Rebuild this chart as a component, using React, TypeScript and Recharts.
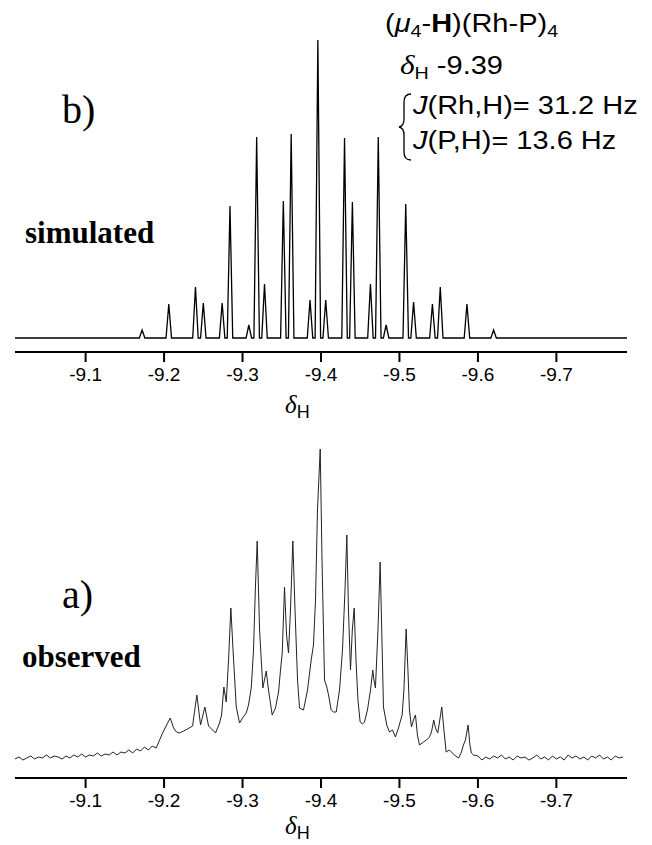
import React from 'react';
import { LineChart, Line, XAxis, YAxis } from 'recharts';

const shiftTicks = [-9.1, -9.2, -9.3, -9.4, -9.5, -9.6, -9.7];
const shiftDomain = [-9.79, -9.01];

// simulated multiplet: line positions (ppm) and heights
const simShift = [
  -9.172, -9.206, -9.24, -9.25, -9.274, -9.284, -9.308, -9.318, -9.328, -9.352, -9.362, -9.386, -9.396,
  -9.406, -9.43, -9.44, -9.463, -9.473, -9.483, -9.508, -9.518, -9.542, -9.552, -9.586, -9.62,
];
const simHeight = [
  8, 34, 51, 35, 35, 132, 13, 201, 54, 137, 204, 38, 298, 38, 200, 136, 54, 201, 13, 134, 36, 34, 51, 34, 8,
];

// observed trace, [ppm, intensity]
const obsLeftNoise = [
  [-9.01, 1], [-9.015, 3], [-9.02, 0], [-9.025, 2], [-9.03, 4], [-9.035, 1], [-9.04, 3], [-9.045, 2],
  [-9.05, 5], [-9.055, 2], [-9.06, 4], [-9.065, 3], [-9.07, 1], [-9.075, 4], [-9.08, 2], [-9.085, 5],
  [-9.09, 3], [-9.095, 6], [-9.1, 3], [-9.105, 5], [-9.11, 4], [-9.115, 7], [-9.12, 4], [-9.125, 6],
  [-9.13, 5], [-9.135, 8], [-9.14, 5], [-9.145, 8], [-9.15, 7], [-9.155, 10], [-9.16, 7], [-9.165, 11],
  [-9.17, 9], [-9.175, 13], [-9.18, 10], [-9.185, 14], [-9.19, 12],
];
const obsMultiplet = [
  [-9.1981, 27], [-9.2032, 35], [-9.2079, 42], [-9.2121, 32], [-9.2159, 28], [-9.2197, 27], [-9.2248, 29],
  [-9.2299, 31], [-9.2363, 34], [-9.2418, 65], [-9.2465, 35], [-9.252, 53], [-9.2567, 34], [-9.2618, 30],
  [-9.2656, 27], [-9.2707, 37], [-9.2733, 45], [-9.2762, 73], [-9.2792, 58], [-9.2822, 100], [-9.2851, 152],
  [-9.2879, 110], [-9.292, 53], [-9.2962, 37], [-9.3, 42], [-9.3047, 47], [-9.3076, 55], [-9.3111, 72],
  [-9.314, 110], [-9.3163, 170], [-9.3187, 219], [-9.3217, 130], [-9.3259, 72], [-9.3302, 89], [-9.3331, 70],
  [-9.3378, 45], [-9.342, 52], [-9.3459, 68], [-9.3484, 90], [-9.3506, 107], [-9.3535, 173], [-9.3561, 125],
  [-9.3586, 107], [-9.3611, 150], [-9.3641, 219], [-9.3669, 150], [-9.3701, 80], [-9.3726, 52], [-9.3777, 50],
  [-9.3828, 70], [-9.3875, 100], [-9.3904, 115], [-9.393, 160], [-9.3955, 250], [-9.399, 311], [-9.4013, 200],
  [-9.4045, 80], [-9.4074, 73], [-9.4096, 65], [-9.413, 50], [-9.4159, 48], [-9.4194, 48], [-9.4236, 70],
  [-9.4274, 110], [-9.4306, 170], [-9.4329, 225], [-9.435, 150], [-9.4376, 90], [-9.4399, 130], [-9.4423, 152],
  [-9.4446, 100], [-9.4471, 60], [-9.4499, 38], [-9.4529, 36], [-9.4554, 38], [-9.4592, 50], [-9.4631, 70],
  [-9.466, 90], [-9.4675, 80], [-9.4694, 72], [-9.4726, 130], [-9.4754, 198], [-9.4777, 120], [-9.4796, 53],
  [-9.4838, 35], [-9.4873, 28], [-9.4911, 30], [-9.4949, 23], [-9.4987, 32], [-9.5034, 45], [-9.5057, 70],
  [-9.5085, 131], [-9.5108, 90], [-9.5127, 50], [-9.5153, 33], [-9.5178, 40], [-9.5204, 45], [-9.5229, 25],
  [-9.5255, 15], [-9.5306, 18], [-9.5344, 20], [-9.5382, 23], [-9.5408, 28], [-9.5437, 40], [-9.5459, 32],
  [-9.5488, 27], [-9.551, 38], [-9.5539, 53], [-9.5567, 30], [-9.5595, 8], [-9.5637, 10], [-9.5675, 7],
  [-9.5713, 4], [-9.5755, 2], [-9.579, 8], [-9.5815, 15], [-9.5841, 20], [-9.5875, 35], [-9.5898, 15],
  [-9.5917, 7], [-9.5943, 5],
];
const obsRightNoise = [
  [-9.6, 4], [-9.605, 0], [-9.61, 3], [-9.615, 1], [-9.62, 4], [-9.625, 2], [-9.63, 5], [-9.635, 1],
  [-9.64, 3], [-9.645, 0], [-9.65, 4], [-9.655, 2], [-9.66, 3], [-9.665, 0], [-9.67, 2], [-9.675, 5],
  [-9.68, 1], [-9.685, 3], [-9.69, 0], [-9.695, 4], [-9.7, 1], [-9.705, 3], [-9.71, 0], [-9.715, 5],
  [-9.72, 2], [-9.725, 4], [-9.73, 1], [-9.735, 3], [-9.74, 0], [-9.745, 4], [-9.75, 2], [-9.755, 5],
  [-9.76, 1], [-9.765, 3], [-9.77, 0], [-9.775, 4], [-9.78, 2], [-9.785, 3],
];

const FOOT = 0.0035;

const simData = [
  { shift: shiftDomain[1], y: 0 },
  ...simShift.flatMap((s, i) => [
    { shift: s + FOOT, y: 0 },
    { shift: s, y: simHeight[i] },
    { shift: s - FOOT, y: 0 },
  ]),
  { shift: shiftDomain[0], y: 0 },
];

const obsData = [...obsLeftNoise, ...obsMultiplet, ...obsRightNoise].map(([shift, y]) => ({ shift, y }));

const sans = '"Liberation Sans", Arial, Helvetica, sans-serif';
const serif = '"Liberation Serif", "Times New Roman", serif';

const axisProps = {
  dataKey: 'shift',
  type: 'number' as const,
  domain: shiftDomain,
  reversed: true,
  allowDataOverflow: true,
  ticks: shiftTicks,
  tickFormatter: (v: number) => v.toFixed(1),
  height: 30,
  tickSize: 10,
  tickMargin: 6,
  axisLine: { stroke: '#000', strokeWidth: 2 },
  tickLine: { stroke: '#000', strokeWidth: 2 },
  tick: { fill: '#000', fontSize: 19, fontFamily: sans },
};

const DeltaH = ({ x, y }: { x: number; y: number }) => (
  <text x={x} y={y} fill="#000">
    <tspan fontFamily={serif} fontStyle="italic" fontSize={25}>δ</tspan>
    <tspan fontFamily={sans} fontSize={18} dy={5}>H</tspan>
  </text>
);

// annotation lines are set a little wide, like the figure
const Wide = ({ x, y, children }: { x: number; y: number; children: React.ReactNode }) => (
  <text transform={`translate(${x},${y}) scale(1.16,1)`}>{children}</text>
);

export default function App() {
  return (
    <div style={{ position: 'absolute', left: 0, top: 0, width: 652, height: 845, background: '#fff', overflow: 'hidden' }}>
      <div style={{ position: 'absolute', left: 0, top: 0 }}>
        <LineChart width={652} height={420} data={simData} margin={{ top: 40, right: 25, left: 15, bottom: 38 }}>
          <XAxis {...axisProps} />
          <YAxis hide domain={[-14, 298]} allowDataOverflow />
          <Line dataKey="y" type="linear" stroke="#000" strokeWidth={1.3} dot={false} isAnimationActive={false} />
        </LineChart>
      </div>
      <div style={{ position: 'absolute', left: 0, top: 420 }}>
        <LineChart width={652} height={425} data={obsData} margin={{ top: 29, right: 25, left: 15, bottom: 37 }}>
          <XAxis {...axisProps} />
          <YAxis hide domain={[-18, 311]} allowDataOverflow />
          <Line dataKey="y" type="linear" stroke="#222" strokeWidth={1} dot={false} isAnimationActive={false} />
        </LineChart>
      </div>
      <svg width={652} height={845} style={{ position: 'absolute', left: 0, top: 0, pointerEvents: 'none' }}>
        <text x={62} y={123} fontFamily={serif} fontSize={40} fill="#000">b)</text>
        <text x={25} y={243} fontFamily={serif} fontWeight="bold" fontSize={31} fill="#000">simulated</text>
        <text x={62} y={608} fontFamily={serif} fontSize={40} fill="#000">a)</text>
        <text x={22} y={667} fontFamily={serif} fontWeight="bold" fontSize={31} fill="#000">observed</text>

        <DeltaH x={285} y={413} />
        <DeltaH x={285} y={834} />

        <g fontFamily={sans} fontSize={25} fill="#000">
          <Wide x={385} y={32}>
            (<tspan fontStyle="italic">μ</tspan>
            <tspan fontSize={17} dy={5}>4</tspan>
            <tspan dy={-5}>-</tspan>
            <tspan fontWeight="bold">H</tspan>)(Rh-P)
            <tspan fontSize={17} dy={5}>4</tspan>
          </Wide>
          <Wide x={400} y={74}>
            <tspan fontFamily={serif} fontStyle="italic" fontSize={27}>δ</tspan>
            <tspan fontSize={17} dy={5}>H</tspan>
            <tspan dy={-5}> -9.39</tspan>
          </Wide>
          <Wide x={413} y={114}>
            <tspan fontStyle="italic">J</tspan>(Rh,H)= 31.2 Hz
          </Wide>
          <Wide x={413} y={149}>
            <tspan fontStyle="italic">J</tspan>(P,H)= 13.6 Hz
          </Wide>
        </g>
        <path
          d="M411 94 Q404 94 404 102 L404 119 Q404 126 399 127 Q404 128 404 135 L404 152 Q404 160 411 160"
          fill="none"
          stroke="#000"
          strokeWidth={1.3}
        />
      </svg>
    </div>
  );
}
